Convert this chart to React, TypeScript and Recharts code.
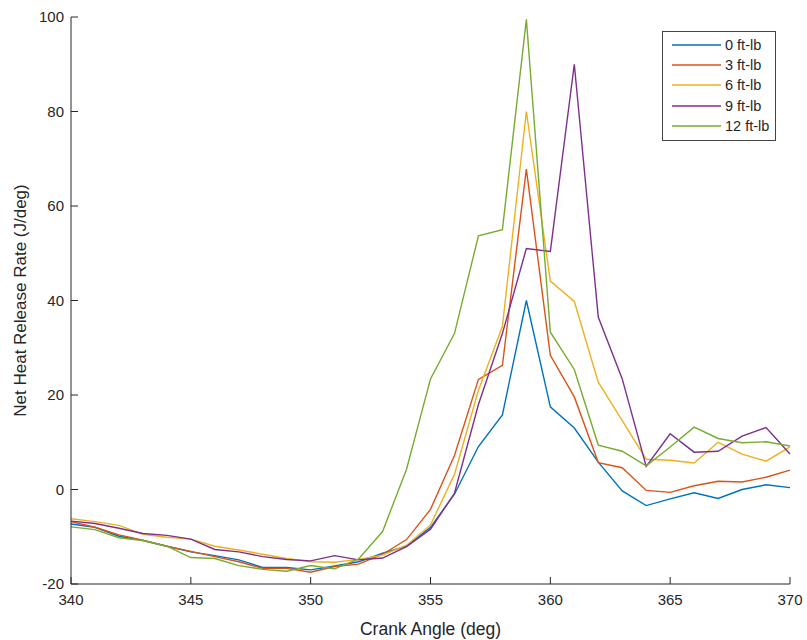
import React from "react";
import { LineChart, Line, XAxis, YAxis } from "recharts";

const angles = [340,341,342,343,344,345,346,347,348,349,350,351,352,353,354,355,356,357,358,359,360,361,362,363,364,365,366,367,368,369,370];
const s0 = [-7.3,-8.0,-9.9,-10.8,-12.0,-13.2,-14.0,-14.9,-16.5,-16.5,-17.0,-16.2,-15.3,-13.5,-12.0,-8.0,-1.0,9.1,15.8,40.0,17.5,13.0,5.8,-0.3,-3.4,-2.0,-0.7,-1.9,0.0,1.0,0.4];
const s3 = [-6.8,-8.0,-9.6,-10.7,-12.0,-13.1,-14.2,-15.3,-16.7,-16.7,-17.5,-16.3,-15.8,-13.7,-10.6,-4.2,7.2,23.3,26.3,67.8,28.4,19.6,5.7,4.6,-0.2,-0.6,0.8,1.75,1.6,2.6,4.1];
const s6 = [-6.2,-6.8,-7.6,-9.5,-10.1,-10.5,-12.0,-12.8,-13.7,-14.6,-15.3,-15.4,-14.8,-13.9,-11.8,-7.5,3.2,21.0,34.5,80.0,44.1,39.8,22.7,14.6,6.4,6.2,5.6,10.0,7.5,6.0,9.0];
const s9 = [-6.7,-7.2,-8.2,-9.3,-9.7,-10.5,-12.7,-13.2,-14.2,-14.8,-15.1,-14.0,-14.9,-14.5,-12.1,-8.4,-0.8,18.0,33.0,51.0,50.4,90.0,36.5,23.4,4.9,11.8,7.9,8.1,11.3,13.1,7.5];
const s12 = [-7.9,-8.5,-10.2,-10.8,-12.0,-14.4,-14.6,-16.1,-16.9,-17.3,-16.1,-16.8,-14.7,-8.9,4.3,23.4,33.0,53.7,55.0,99.5,33.3,25.4,9.4,8.1,5.0,9.0,13.2,10.8,9.9,10.1,9.2];

const seriesNames = ["0 ft-lb", "3 ft-lb", "6 ft-lb", "9 ft-lb", "12 ft-lb"];
const seriesKeys = ["s0", "s3", "s6", "s9", "s12"];
const seriesColors = ["#0072BD", "#D95319", "#EDB120", "#7E2F8E", "#77AC30"];
const xTicks = [340, 345, 350, 355, 360, 365, 370];
const yTicks = [-20, 0, 20, 40, 60, 80, 100];

const data = angles.map((a, i) => ({ angle: a, s0: s0[i], s3: s3[i], s6: s6[i], s9: s9[i], s12: s12[i] }));

const AX = "#262626";
const FONT = "'Liberation Sans', Arial, Helvetica, sans-serif";

const XTick = (props: any) => {
  const { x, y, payload } = props;
  return (
    <g>
      <line x1={x} x2={x} y1={y} y2={y - 7} stroke={AX} strokeWidth={1} />
      <text x={x} y={y + 21} textAnchor="middle" fontSize={15} fill={AX} fontFamily={FONT}>{payload.value}</text>
    </g>
  );
};

const YTick = (props: any) => {
  const { x, y, payload } = props;
  return (
    <g>
      <line x1={x} x2={x + 7} y1={y} y2={y} stroke={AX} strokeWidth={1} />
      <text x={x - 7} y={y + 5} textAnchor="end" fontSize={15} fill={AX} fontFamily={FONT}>{payload.value}</text>
    </g>
  );
};

const LegendBox = () => (
  <div style={{ position: "absolute", left: 662, top: 31, border: "1.5px solid #444", background: "#fff", width: 114, padding: "3px 0 4px 0", boxSizing: "border-box", fontFamily: FONT }}>
    {seriesNames.map((n, i) => (
      <div key={n} style={{ display: "flex", alignItems: "center", height: 20.2 }}>
        <svg width={60} height={10} style={{ display: "block" }}>
          <line x1={9} x2={58} y1={5} y2={5} stroke={seriesColors[i]} strokeWidth={1.5} />
        </svg>
        <span style={{ fontSize: 14.5, color: AX, marginLeft: 2 }}>{n}</span>
      </div>
    ))}
  </div>
);

export default function App() {
  return (
    <div style={{ position: "absolute", left: 0, top: 0, width: 807, height: 640, background: "#fff" }}>
      <LineChart width={807} height={640} data={data} margin={{ top: 17, right: 17, bottom: 0, left: 0 }}>
        <XAxis
          dataKey="angle"
          type="number"
          domain={[340, 370]}
          ticks={xTicks}
          tickSize={0}
          tickMargin={0}
          tickLine={false}
          tick={<XTick />}
          axisLine={{ stroke: AX, strokeWidth: 1 }}
          height={56}
          interval={0}
          label={{ value: "Crank Angle (deg)", position: "insideBottom", offset: 5, fill: AX, fontSize: 17.5, fontFamily: FONT }}
        />
        <YAxis
          type="number"
          domain={[-20, 100]}
          ticks={yTicks}
          tickSize={0}
          tickMargin={0}
          tickLine={false}
          tick={<YTick />}
          axisLine={{ stroke: AX, strokeWidth: 1 }}
          width={71}
          interval={0}
          allowDataOverflow
          label={{ value: "Net Heat Release Rate (J/deg)", angle: -90, position: "insideLeft", offset: 20, fill: AX, fontSize: 17, fontFamily: FONT, style: { textAnchor: "middle" } }}
        />
        {seriesKeys.map((k, i) => (
          <Line key={k} type="linear" dataKey={k} name={seriesNames[i]} stroke={seriesColors[i]} strokeWidth={1.4} dot={false} isAnimationActive={false} />
        ))}
      </LineChart>
      <LegendBox />
    </div>
  );
}
